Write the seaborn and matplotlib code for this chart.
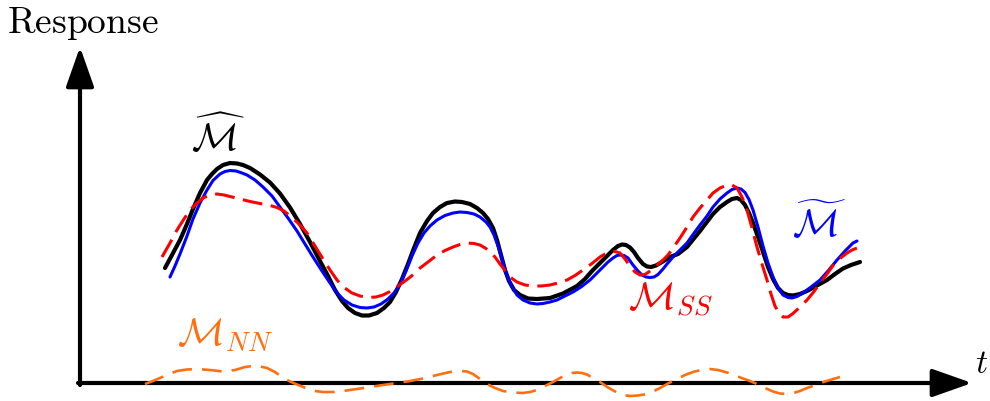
import matplotlib
matplotlib.use("Agg")
import matplotlib.pyplot as plt
import seaborn as sns
import pandas as pd

sns.set_theme(style="white")
plt.rcParams["mathtext.fontset"] = "cm"
plt.rcParams["font.family"] = ["DejaVu Serif"]

# ---- data (x = time position, y = response, screen units) ----
black_x = [165, 172, 180, 187, 193, 200, 207, 212, 217, 223, 230, 237, 243, 250, 260, 270, 280, 290, 300, 310,
           320, 328, 335, 342, 348, 355, 362, 369, 377, 384, 390, 396, 402, 408, 414, 420, 427, 433, 440, 447,
           455, 462, 470, 477, 483, 488, 493, 497, 501, 505, 509, 514, 520, 528, 537, 550, 563, 577, 585, 592,
           600, 607, 613, 618, 622, 626, 630, 634, 638, 643, 647, 651, 656, 662, 670, 678, 687, 700, 713, 720,
           727, 732, 737, 741, 745, 749, 753, 758, 763, 768, 773, 778, 783, 788, 793, 800, 807, 817, 827, 835,
           843, 851, 860]
black_y = [268, 255, 240, 224, 209, 193, 180, 174, 169, 165, 163, 163.5, 165, 168, 174.5, 182.5, 193.5, 207.5, 224, 242,
           261, 276, 290, 301, 308, 313, 315.5, 315.5, 313, 308, 302, 292, 279, 264, 248, 233, 221, 213, 207, 203,
           201.5, 202, 204, 208, 213, 219, 228, 240, 255, 270, 281, 290, 295, 298.5, 299, 298, 293.5, 286, 279, 271,
           263, 256, 250, 246, 244.5, 245, 247.5, 252, 258, 264, 266.5, 267, 265.5, 262, 257, 254, 247, 231, 214, 207,
           202, 199, 198, 200, 205, 213, 223, 237, 252, 267, 279, 288, 293, 295, 295.5, 294, 291, 285.5, 280, 274,
           268.5, 265, 262]

blue_x = [170, 175, 180, 187, 193, 200, 207, 213, 220, 225, 230, 236, 242, 247, 255, 263, 272, 280, 288, 297,
          305, 313, 322, 330, 337, 344, 352, 360, 367, 374, 381, 388, 394, 400, 406, 412, 418, 424, 430, 437,
          445, 453, 460, 467, 474, 480, 486, 490, 494, 498, 502, 506, 511, 517, 523, 530, 537, 543, 550, 557,
          565, 573, 581, 590, 597, 603, 608, 613, 617, 620, 624, 628, 633, 638, 642, 646, 650, 654, 658, 663,
          667, 673, 680, 687, 693, 700, 707, 713, 720, 727, 732, 737, 741, 745, 749, 753, 758, 763, 768, 773,
          778, 783, 788, 792, 797, 803, 811, 820, 828, 837, 845, 853, 857]
blue_y = [277, 266, 254, 236, 219, 203, 190, 180.5, 174, 171.5, 170.5, 171, 173, 175, 180, 187, 196, 207, 218, 231,
          244, 257, 271, 283, 293, 300, 305, 307.5, 308, 307, 304, 299, 293, 284, 271, 256, 243, 233, 226, 220,
          215.5, 213, 212, 212.5, 214, 217, 222, 227, 235, 246, 259, 273, 285, 295, 300, 303, 304, 303.5, 302, 300,
          296, 292, 287, 280, 273, 267, 262, 258, 255.5, 255, 255.5, 258, 265, 271, 275, 277, 277.5, 277, 274.5, 269,
          264, 257, 250, 243, 234.5, 225, 216, 207, 199, 193, 189.5, 188, 189, 192.5, 199.5, 210, 227, 246, 263, 277,
          288, 295, 297.5, 298, 296.5, 293, 287, 280, 271, 260, 251, 243, 241]

red_x = [162, 170, 177, 184, 190, 197, 203, 210, 217, 224, 230, 240, 250, 260, 270, 277, 284, 290, 298, 307,
         315, 323, 330, 337, 344, 352, 360, 368, 376, 383, 390, 398, 407, 414, 420, 428, 437, 445, 453, 460,
         467, 474, 480, 486, 490, 495, 500, 507, 512, 517, 525, 533, 541, 550, 558, 567, 575, 583, 592, 600,
         605, 610, 615, 620, 625, 630, 635, 640, 645, 650, 656, 663, 668, 673, 680, 687, 693, 700, 707, 713,
         720, 727, 732, 737, 742, 747, 752, 757, 762, 767, 771, 775, 779, 783, 788, 793, 800, 807, 814, 820,
         827, 833, 840, 847, 852, 857]
red_y = [257, 243, 230, 219, 210, 203, 198, 195, 194, 195, 196.5, 199, 201.5, 203.5, 205.5, 207.5, 211, 216, 223, 233,
         246, 259, 270, 280, 287.5, 293, 296, 297.5, 297, 295, 291.5, 286, 279.5, 274, 268, 262, 255, 250.5, 247, 244.5,
         243, 243.5, 245, 248.5, 252, 257, 264, 273, 278.5, 282, 285, 286, 286, 285, 283, 280, 275.5, 270, 263.5, 257,
         254, 252, 251.5, 253, 259, 266, 272, 275, 274.5, 271, 266, 260, 255, 248, 238, 227, 217, 208, 200, 193,
         188, 185, 185, 188, 197, 210, 228, 247, 264, 280, 294, 306, 313, 317, 317, 313.5, 307, 300, 291.5, 283,
         274, 265.5, 258.5, 253, 250, 248]

orange_x = [145, 153, 160, 168, 177, 187, 197, 210, 223, 235, 245, 253, 260, 267, 275, 283, 290, 297, 307, 315,
            323, 333, 343, 357, 370, 383, 397, 410, 423, 437, 450, 460, 467, 473, 480, 488, 495, 503, 513, 523,
            530, 537, 545, 553, 560, 567, 572, 577, 582, 587, 593, 600, 608, 617, 623, 630, 638, 647, 653, 660,
            668, 677, 685, 693, 701, 710, 718, 727, 735, 743, 750, 757, 765, 773, 780, 787, 795, 800, 807, 814,
            820, 830, 840]
orange_y = [384, 381, 378, 374.5, 371, 369.5, 369, 370, 371.5, 370, 367, 366, 366.5, 368, 372, 377.5, 381.5, 384.5,
            388.5, 391, 392, 392, 391, 389, 387, 385, 383, 381, 378.5, 375, 372, 371, 371.5, 374, 379, 384.5, 388,
            391, 392.5, 393, 392, 390, 386, 382, 378, 374.5, 373, 372.5, 373, 374.5, 378, 382, 387.5, 392.5, 395, 396,
            395.5, 394, 391.5, 388, 383.5, 379, 375, 372, 370, 369, 370, 372.5, 375.5, 378.5, 381, 384, 388, 391.5,
            393.5, 394, 392.5, 391, 388, 385.5, 383, 380, 377]

labels = {
    "hat": r"$\widehat{\mathcal{M}}$",
    "tilde": r"$\widetilde{\mathcal{M}}$",
    "ss": r"$\mathcal{M}_{SS}$",
    "nn": r"$\mathcal{M}_{NN}$",
}

# ---- figure ----
fig = plt.figure(figsize=(9.9, 4.01), dpi=100)
ax = fig.add_axes([0, 0, 1, 1])

arrow_style = "-|>,head_length=1.36,head_width=0.48"
ax.annotate("", xy=(972, 383), xytext=(78, 383),
            arrowprops=dict(arrowstyle=arrow_style, lw=3.0, color="black",
                            mutation_scale=18, shrinkA=0, shrinkB=0))
ax.annotate("", xy=(80, 47), xytext=(80, 385),
            arrowprops=dict(arrowstyle=arrow_style, lw=3.0, color="black",
                            mutation_scale=18, shrinkA=0, shrinkB=0))

df_o = pd.DataFrame({"x": orange_x, "y": orange_y})
sns.lineplot(data=df_o, x="x", y="y", ax=ax, color="#ff6f0f", lw=1.9, sort=False, estimator=None,
             linestyle=(0, (7.5, 3.8)), zorder=3)
df_r = pd.DataFrame({"x": red_x, "y": red_y})
sns.lineplot(data=df_r, x="x", y="y", ax=ax, color="#ff0000", lw=2.2, sort=False, estimator=None,
             linestyle=(0, (6.5, 2.8)), zorder=6)
df_k = pd.DataFrame({"x": black_x, "y": black_y})
sns.lineplot(data=df_k, x="x", y="y", ax=ax, color="black", lw=3.0, sort=False, estimator=None, zorder=4)
df_b = pd.DataFrame({"x": blue_x, "y": blue_y})
sns.lineplot(data=df_b, x="x", y="y", ax=ax, color="#0000ff", lw=2.2, sort=False, estimator=None, zorder=5)

ax.set_xlim(0, 990)
ax.set_ylim(401, 0)
ax.axis("off")

ax.text(7, 33, r"$\mathrm{Response}$", fontsize=27, ha="left", va="baseline", color="black")
ax.text(982, 364, r"$t$", fontsize=24, ha="center", va="center", color="black")
ax.text(218, 137, labels["hat"], fontsize=28, ha="center", va="center", color="black")
ax.text(819, 224, labels["tilde"], fontsize=28, ha="center", va="center", color="#0000ff")
ax.text(670, 300, labels["ss"], fontsize=28, ha="center", va="center", color="#ff0000")
ax.text(225, 335, labels["nn"], fontsize=28, ha="center", va="center", color="#ff6f0f")

fig.savefig("out.png", dpi=100)
